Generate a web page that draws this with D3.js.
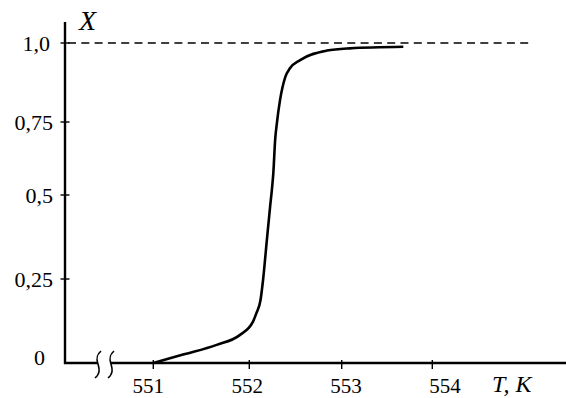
<!DOCTYPE html>
<html>
<head>
<meta charset="utf-8">
<script src="https://cdn.jsdelivr.net/npm/d3@7"></script>
<style>
  html, body { margin: 0; padding: 0; background: #fff; }
  svg { display: block; }
  text { font-family: "Liberation Serif", "Times New Roman", serif; fill: #000; }
</style>
</head>
<body>
<div id="chart"></div>
<script>
// ---- data ----
const temperatureT = [551.0, 551.31, 551.66, 551.90, 552.04, 552.078, 552.12, 552.15, 552.19, 552.225, 552.245, 552.26, 552.28, 552.30, 552.333, 552.39, 552.44, 552.55, 552.84, 553.09, 553.68];
const conversionX  = [0.0,   0.025,  0.054,  0.083,  0.123,  0.149,   0.185,  0.25,   0.366,  0.465,   0.52,    0.575,  0.69,   0.75,   0.82,    0.893,  0.92,   0.946,  0.976,  0.983,  0.988];
const xTickValues = [551, 552, 553, 554];
const xTickLabels = ["551", "552", "553", "554"];
const yTickValues = [0, 0.25, 0.5, 0.75, 1.0];
const yTickLabels = ["0", "0,25", "0,5", "0,75", "1,0"];
const limitLevel = 1.0;

const W = 566, H = 398;
const svg = d3.select("#chart").append("svg").attr("width", W).attr("height", H);

// hand-drawn axes: piecewise linear scales
const x = d3.scaleLinear().domain([551, 552, 553, 554]).range([153.3, 249.3, 341.7, 432.3]);
const xLab = d3.scaleLinear().domain([551, 554]).range([148.3, 445]);
const y = d3.scaleLinear().domain([0, 0.25, 0.5, 0.75, 1.0]).range([363, 279, 195, 122, 43]);

const axisX0 = 65;

// y axis
svg.append("line").attr("x1", axisX0).attr("x2", axisX0).attr("y1", 22).attr("y2", y(0) + 1)
  .attr("stroke", "#000").attr("stroke-width", 2.4);
// x axis (with break)
svg.append("line").attr("x1", axisX0 - 1).attr("x2", 97).attr("y1", y(0)).attr("y2", y(0))
  .attr("stroke", "#000").attr("stroke-width", 2.4);
svg.append("line").attr("x1", 111).attr("x2", W).attr("y1", y(0)).attr("y2", y(0))
  .attr("stroke", "#000").attr("stroke-width", 2.4);

// break marks
[98, 111].forEach(cx => {
  svg.append("path")
    .attr("d", `M${cx + 3},351 C${cx - 3},356 ${cx - 1},361 ${cx},364 C${cx + 1},368 ${cx + 3},373 ${cx - 3},378`)
    .attr("fill", "none").attr("stroke", "#000").attr("stroke-width", 1.6);
});

// y ticks
svg.selectAll(".yt").data(yTickValues.filter(v => v > 0)).enter().append("line")
  .attr("x1", axisX0 - 4.5).attr("x2", axisX0 + 4.5)
  .attr("y1", d => y(d)).attr("y2", d => y(d))
  .attr("stroke", "#000").attr("stroke-width", 1.4);
svg.selectAll(".yl").data(yTickValues).enter().append("text")
  .attr("x", d => d === 0 ? 45 : (d === 1 ? 50 : 53))
  .attr("y", d => d === 0 ? y(d) - 6 : y(d))
  .attr("dy", "0.35em")
  .attr("text-anchor", "end")
  .attr("font-size", 22)
  .text((d, i) => yTickLabels[i]);

// x ticks
svg.selectAll(".xt").data(xTickValues).enter().append("line")
  .attr("x1", d => x(d)).attr("x2", d => x(d))
  .attr("y1", y(0) - 3).attr("y2", y(0) + 6)
  .attr("stroke", "#000").attr("stroke-width", 1.4);
svg.selectAll(".xl").data(xTickValues).enter().append("text")
  .attr("x", d => xLab(d))
  .attr("y", 393)
  .attr("text-anchor", "middle")
  .attr("font-size", 21)
  .text((d, i) => xTickLabels[i]);

// axis titles
svg.append("text").attr("x", 79).attr("y", 30).attr("font-size", 28).attr("font-style", "italic").text("X");
svg.append("text").attr("x", 492).attr("y", 392).attr("font-size", 24).attr("font-style", "italic").text("T, K");

// dashed limit line
svg.append("line").attr("x1", 68).attr("x2", 531).attr("y1", y(limitLevel)).attr("y2", y(limitLevel))
  .attr("stroke", "#000").attr("stroke-width", 1.6).attr("stroke-dasharray", "8,5.3");

// curve
const pts = temperatureT.map((t, i) => [t, conversionX[i]]);
const line = d3.line().x(d => x(d[0])).y(d => y(d[1])).curve(d3.curveMonotoneX);
svg.append("path").datum(pts).attr("d", line)
  .attr("fill", "none").attr("stroke", "#000").attr("stroke-width", 2.6).attr("stroke-linejoin", "round");
</script>
</body>
</html>
